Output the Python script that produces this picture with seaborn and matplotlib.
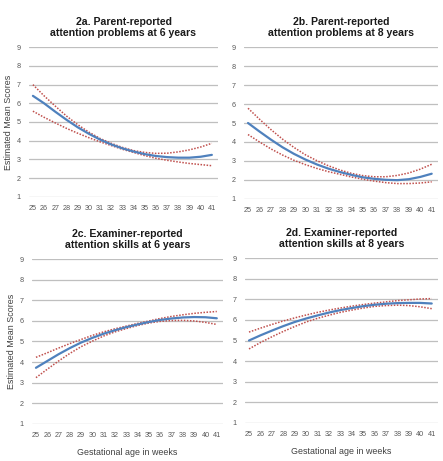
import numpy as np
import pandas as pd
import matplotlib
matplotlib.use("Agg")
import matplotlib.pyplot as plt
import seaborn as sns

weeks = list(range(25, 42))
yticks = [1, 2, 3, 4, 5, 6, 7, 8, 9]

titles = ["2a. Parent-reported\nattention problems at 6 years",
          "2b. Parent-reported\nattention problems at 8 years",
          "2c. Examiner-reported\nattention skills at 6 years",
          "2d. Examiner-reported\nattention skills at 8 years"]

est_2a = [6.40, 6.00, 5.55, 5.12, 4.72, 4.37, 4.06, 3.80, 3.59, 3.42, 3.28, 3.18, 3.12, 3.09, 3.09, 3.14, 3.24]
up_2a  = [7.00, 6.40, 5.85, 5.32, 4.86, 4.46, 4.12, 3.86, 3.64, 3.47, 3.37, 3.32, 3.33, 3.40, 3.51, 3.66, 3.86]
lo_2a  = [5.58, 5.25, 4.95, 4.66, 4.40, 4.16, 3.94, 3.74, 3.54, 3.37, 3.20, 3.06, 2.95, 2.86, 2.78, 2.72, 2.66]

est_2b = [5.00, 4.55, 4.12, 3.72, 3.37, 3.07, 2.81, 2.59, 2.41, 2.26, 2.13, 2.05, 2.00, 1.98, 2.03, 2.15, 2.32]
up_2b  = [5.78, 5.20, 4.65, 4.15, 3.71, 3.32, 3.01, 2.74, 2.52, 2.34, 2.22, 2.16, 2.16, 2.23, 2.36, 2.56, 2.82]
lo_2b  = [4.39, 4.00, 3.63, 3.31, 3.03, 2.80, 2.60, 2.43, 2.29, 2.15, 2.03, 1.93, 1.85, 1.80, 1.80, 1.83, 1.89]

est_2c = [3.72, 4.05, 4.38, 4.68, 4.95, 5.18, 5.38, 5.55, 5.70, 5.83, 5.95, 6.05, 6.12, 6.17, 6.19, 6.18, 6.13]
up_2c  = [4.23, 4.45, 4.68, 4.90, 5.10, 5.30, 5.47, 5.62, 5.75, 5.88, 6.00, 6.12, 6.22, 6.30, 6.37, 6.42, 6.46]
lo_2c  = [3.24, 3.65, 4.05, 4.42, 4.75, 5.02, 5.27, 5.47, 5.63, 5.78, 5.90, 5.98, 6.02, 6.03, 6.00, 5.93, 5.83]

est_2d = [5.00, 5.25, 5.48, 5.70, 5.90, 6.07, 6.22, 6.36, 6.48, 6.58, 6.67, 6.74, 6.79, 6.82, 6.83, 6.83, 6.80]
up_2d  = [5.41, 5.60, 5.78, 5.95, 6.10, 6.24, 6.37, 6.48, 6.58, 6.67, 6.75, 6.82, 6.88, 6.94, 6.98, 7.02, 7.04]
lo_2d  = [4.59, 4.90, 5.18, 5.44, 5.68, 5.90, 6.08, 6.23, 6.37, 6.48, 6.58, 6.66, 6.70, 6.72, 6.70, 6.64, 6.55]

panels = [(est_2a, up_2a, lo_2a), (est_2b, up_2b, lo_2b),
          (est_2c, up_2c, lo_2c), (est_2d, up_2d, lo_2d)]

sns.set_theme(style="white")
plt.rcParams['font.family'] = ['Liberation Sans', 'DejaVu Sans']

W, H = 443, 461
fig = plt.figure(figsize=(W / 100, H / 100), dpi=100)

# axes boxes in pixels: left, top, right, bottom (gridline extents)
boxes = [(29, 47, 218, 197), (244, 47, 438, 199),
         (32, 259, 223, 424), (245, 258, 438, 423)]

blue = "#4F81BD"
red = "#C0504D"
tick_col = "#595959"

for i, ((est, up, lo), (l, t, r, b)) in enumerate(zip(panels, boxes)):
    ax = fig.add_axes([l / W, 1 - b / H, (r - l) / W, (b - t) / H])
    df = pd.DataFrame({"week": weeks, "est": est, "up": up, "lo": lo})
    sns.lineplot(data=df, x="week", y="up", ax=ax, color=red, lw=1.1,
                 linestyle=(0, (1, 1.0)))
    sns.lineplot(data=df, x="week", y="lo", ax=ax, color=red, lw=1.1,
                 linestyle=(0, (1, 1.0)))
    sns.lineplot(data=df, x="week", y="est", ax=ax, color=blue, lw=1.6)
    ax.set_xlim(24.65, 41.55)
    ax.set_ylim(0.985, 9.015)
    ax.set_yticks(yticks)
    ax.set_xticks(weeks)
    ax.set_yticklabels([str(v) for v in yticks])
    ax.set_xticklabels([str(v) for v in weeks])
    ax.grid(axis="y", color="#BFBFBF", lw=0.9)
    ax.grid(axis="x", visible=False)
    for s in ax.spines.values():
        s.set_visible(False)
    ax.tick_params(axis="both", length=0, labelsize=5.2, labelcolor=tick_col)
    ax.tick_params(axis="y", pad=6)
    ax.tick_params(axis="x", pad=6)
    ax.set_title(titles[i], fontsize=7.6, fontweight="bold", color="#1a1a1a",
                 pad=8, linespacing=1.05)
    ax.set_xlabel("")
    ax.set_ylabel("")
    if i % 2 == 0:
        ax.set_ylabel("Estimated Mean Scores", fontsize=6.4, color="#404040", labelpad=2.5)
    if i >= 2:
        ax.set_xlabel("Gestational age in weeks", fontsize=6.4, color="#404040", labelpad=6)

fig.savefig("out.png", dpi=100, facecolor="white")
